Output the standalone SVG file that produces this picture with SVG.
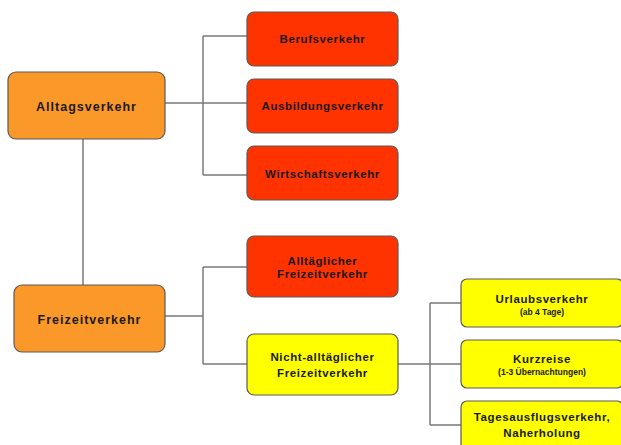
<svg xmlns="http://www.w3.org/2000/svg" width="621" height="445" viewBox="0 0 621 445">
<style>
.box{stroke:#5a5a5a;stroke-width:1.2}
.o{fill:#FA982A}
.r{fill:#FF3300}
.y{fill:#FFFF00}
.t{font-family:"Liberation Sans",Arial,sans-serif;font-weight:bold;fill:#1a1a1a;text-anchor:middle}
.big{font-size:12.5px;letter-spacing:1px}
.mid{font-size:11.5px;letter-spacing:0.6px}
.sm{font-size:8.5px}
.c{fill:none;stroke:#7a7a7a;stroke-width:1.5}
</style>
<rect width="621" height="445" fill="#fff"/>
<g id="connectors">
<path class="c" d="M165 103H247M203 36V175M203 36H247M203 175H247"/>
<path class="c" d="M83 139V285"/>
<path class="c" d="M165 316H203M203 267V364M203 267H247M203 364H247"/>
<path class="c" d="M398 364H461M430 303V425M430 303H461M430 425H461"/>
</g>
<g id="alltagsverkehr"><rect class="box o" x="8" y="72" width="157" height="67" rx="8"/><text class="t big" x="86.5" y="111">Alltagsverkehr</text></g>
<g id="berufsverkehr"><rect class="box r" x="247" y="12" width="151" height="54" rx="7"/><text class="t mid" x="322.5" y="43">Berufsverkehr</text></g>
<g id="ausbildungsverkehr"><rect class="box r" x="247" y="79" width="151" height="54" rx="7"/><text class="t mid" x="322.5" y="110">Ausbildungsverkehr</text></g>
<g id="wirtschaftsverkehr"><rect class="box r" x="247" y="146" width="151" height="54" rx="7"/><text class="t mid" x="322.5" y="178">Wirtschaftsverkehr</text></g>
<g id="freizeitverkehr"><rect class="box o" x="14" y="285" width="151" height="67" rx="8"/><text class="t big" x="89.5" y="324">Freizeitverkehr</text></g>
<g id="alltaeglicher"><rect class="box r" x="247" y="236" width="151" height="61" rx="7"/><text class="t mid" x="322.5" y="265">Alltäglicher</text><text class="t mid" x="322.5" y="278">Freizeitverkehr</text></g>
<g id="nicht-alltaeglicher"><rect class="box y" x="247" y="334" width="151" height="61" rx="7"/><text class="t mid" x="322.5" y="361">Nicht-alltäglicher</text><text class="t mid" x="322.5" y="377">Freizeitverkehr</text></g>
<g id="urlaubsverkehr"><rect class="box y" x="461" y="279" width="162" height="48" rx="6"/><text class="t mid" x="542" y="303">Urlaubsverkehr</text><text class="t sm" x="542" y="315">(ab 4 Tage)</text></g>
<g id="kurzreise"><rect class="box y" x="461" y="340" width="162" height="48" rx="6"/><text class="t mid" x="542" y="363">Kurzreise</text><text class="t sm" x="542" y="375">(1-3 Übernachtungen)</text></g>
<g id="tagesausflug"><rect class="box y" x="461" y="401" width="162" height="60" rx="6"/><text class="t mid" x="542" y="421">Tagesausflugsverkehr,</text><text class="t mid" x="542" y="437">Naherholung</text></g>
</svg>
